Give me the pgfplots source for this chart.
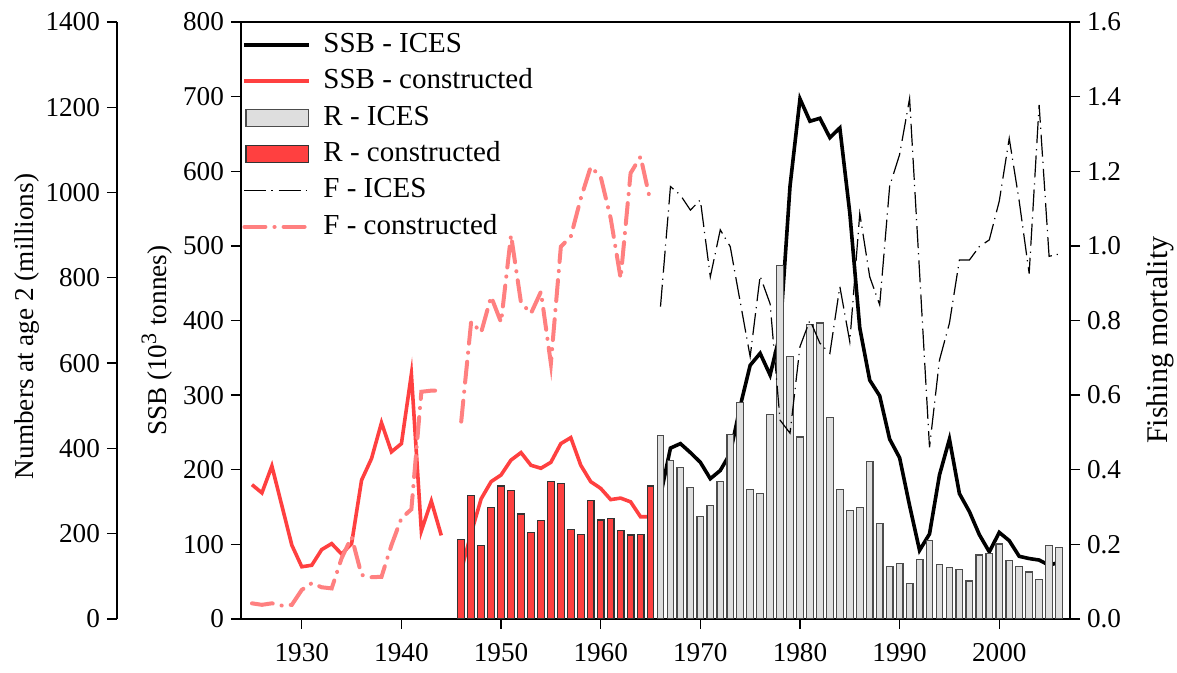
\documentclass[border=0pt]{standalone}
\usepackage{fontspec}
\setmainfont{Liberation Serif}
\usepackage{pgfplots}
\pgfplotsset{compat=1.18}
\usepackage{pgfplotstable}

\definecolor{ssbred}{RGB}{255,64,64}
\definecolor{fpink}{RGB}{255,128,128}
\definecolor{rgrey}{RGB}{222,222,222}

% SSB (10^3 t)
\pgfplotstableread{
year val
1925 180
1926 169
1927 205
1928 152
1929 99
1930 70
1931 72
1932 93
1933 101
1934 87
1935 101
1936 186
1937 215
1938 263
1939 224
1940 235
1941 328
1942 118
1943 158
1944 112
1945 nan
1946 65
1947 115
1948 161
1949 184
1950 193
1951 213
1952 223
1953 206
1954 202
1955 210
1956 235
1957 243
1958 206
1959 184
1960 175
1961 160
1962 162
1963 157
1964 137
1965 137
}\ssbcons

\pgfplotstableread{
year val
1966 165
1967 229
1968 235
1969 223
1970 210
1971 188
1972 199
1973 222
1974 285
1975 340
1976 356
1977 327
1978 382
1979 580
1980 697
1981 667
1982 671
1983 645
1984 658
1985 544
1986 390
1987 320
1988 299
1989 241
1990 216
1991 152
1992 92
1993 114
1994 193
1995 241
1996 168
1997 144
1998 113
1999 90
2000 116
2001 105
2002 84
2003 81
2004 79
2005 72
2006 76
}\ssbices

% recruits, numbers at age 2 (millions)
\pgfplotstableread{
year val
1946 187
1947 289
1948 173
1949 261
1950 312
1951 302
1952 246
1953 202
1954 231
1955 322
1956 317
1957 209
1958 199
1959 277
1960 232
1961 236
1962 207
1963 197
1964 199
1965 312
}\rcons

\pgfplotstableread{
year val
1966 430
1967 371
1968 355
1969 308
1970 241
1971 266
1972 323
1973 433
1974 507
1975 304
1976 295
1977 480
1978 829
1979 615
1980 427
1981 690
1982 694
1983 473
1984 304
1985 255
1986 261
1987 369
1988 224
1989 124
1990 130
1991 84
1992 140
1993 185
1994 128
1995 121
1996 117
1997 89
1998 150
1999 154
2000 176
2001 138
2002 124
2003 110
2004 92
2005 173
2006 168
}\rices

% fishing mortality
\pgfplotstableread{
year val
1925 0.042
1926 0.038
1927 0.042
1928 0.036
1929 0.038
1930 0.078
1931 0.096
1932 0.085
1933 0.082
1934 0.163
1935 0.22
1936 0.118
1937 0.112
1938 0.113
1939 0.198
1940 0.27
1941 0.294
1942 0.609
1943 0.612
1944 0.612
1945 nan
1946 0.529
1947 0.797
1948 0.768
1949 0.864
1950 0.795
1951 1.029
1952 0.848
1953 0.819
1954 0.877
1955 0.685
1956 0.998
1957 1.025
1958 1.127
1959 1.212
1960 1.185
1961 1.074
1962 0.913
1963 1.195
1964 1.239
1965 1.118
}\fcons

\pgfplotstableread{
year val
1966 0.837
1967 1.159
1968 1.136
1969 1.096
1970 1.123
1971 0.917
1972 1.043
1973 0.998
1974 0.85
1975 0.703
1976 0.919
1977 0.845
1978 0.533
1979 0.498
1980 0.73
1981 0.801
1982 0.739
1983 0.712
1984 0.891
1985 0.743
1986 1.087
1987 0.917
1988 0.842
1989 1.16
1990 1.245
1991 1.395
1992 0.93
1993 0.46
1994 0.694
1995 0.793
1996 0.962
1997 0.962
1998 0.998
1999 1.016
2000 1.12
2001 1.288
2002 1.12
2003 0.926
2004 1.378
2005 0.972
2006 0.978
}\fices

\pgfplotsset{
  base/.style={
    scale only axis, width=414.5pt, height=298.5pt,
    xmin=1923.9, xmax=2007.1,
    at={(0pt,0pt)}, anchor=south west,
    tick align=outside, major tick length=5pt,
    every tick/.style={black, line width=0.65pt},
    axis line style={line width=0.85pt},
    ticklabel style={font=\fontsize{13.6}{15}\selectfont},
    label style={font=\fontsize{13.6}{15}\selectfont},
    /pgf/number format/assume math mode=true,
    /pgf/number format/1000 sep={},
    unbounded coords=jump,
  },
  ssbices/.style={black, line width=1.8pt},
  ssbcons/.style={ssbred, line width=1.8pt},
  rices/.style={fill=rgrey, draw=black!70, line width=0.6pt},
  rcons/.style={fill=ssbred, draw=black!80, line width=0.6pt},
  fices/.style={black, line width=0.6pt, dash pattern=on 11pt off 2.5pt on 0.6pt off 3pt},
  fcons/.style={fpink, line width=2pt, line cap=round, dash pattern=on 10.5pt off 4.5pt on 0.1pt off 4.5pt},
  linelegend/.style={legend image code/.code={\draw[##1] (0pt,0pt) -- (32.5pt,0pt);}},
  arealegend/.style={legend image code/.code={\draw[##1] (0.8pt,-4.25pt) rectangle (32pt,4.25pt);}},
}

\begin{document}
\begin{tikzpicture}
% SSB, left inner axis
\begin{axis}[base,
  ymin=0, ymax=800, ytick={0,100,...,800},
  xtick={1930,1940,...,2000}, xtick pos=bottom, ytick pos=left,
  xticklabel style={yshift=-3.5pt},
  ylabel={SSB (10\textsuperscript{\fontsize{11}{12}\selectfont 3} tonnes)},
  y label style={at={(axis description cs:-0.1013,0.466)}, anchor=center},
]
\addplot[ssbcons] table[x=year,y=val] {\ssbcons};
\addplot[ssbices] table[x=year,y=val] {\ssbices};
\end{axis}

% recruitment bars
\begin{axis}[base, hide axis, ymin=0, ymax=1400]
\addplot[ybar, bar width=0.67, bar shift=0pt, rcons] table[x=year,y=val] {\rcons};
\addplot[ybar, bar width=0.67, bar shift=0pt, rices] table[x=year,y=val] {\rices};
\end{axis}

% outer recruitment scale
\begin{axis}[base, at={(-62pt,0pt)}, hide x axis, axis y line*=left,
  axis line style={line width=0.6pt},
  ymin=0, ymax=1400, ytick={0,200,...,1400},
  ylabel={Numbers at age 2 (millions)},
  y label style={at={(axis description cs:-0.1086,0.49)}, anchor=center},
]
\end{axis}

% fishing mortality, right axis
\begin{axis}[base, hide x axis, axis y line*=right,
  ymin=0, ymax=1.6, ytick={0,0.2,...,1.6},
  yticklabel style={/pgf/number format/.cd, fixed, fixed zerofill, precision=1},
  ylabel={Fishing mortality},
  y label style={at={(axis description cs:1.1086,0.467)}, anchor=center,
    font=\fontsize{15}{17}\selectfont},
  legend style={at={(axis description cs:-0.006,0.995)}, anchor=north west,
    draw=none, fill=none, font=\fontsize{14.5}{16}\selectfont,
    row sep=2.7pt, nodes={inner sep=1pt, text height=10.5pt, text depth=3pt},
    /tikz/every odd column/.append style={column sep=5pt}},
  legend cell align=left,
]
\addlegendimage{ssbices, linelegend}
\addlegendentry{SSB - ICES}
\addlegendimage{ssbcons, linelegend}
\addlegendentry{SSB - constructed}
\addlegendimage{rices, arealegend}
\addlegendentry{R - ICES}
\addlegendimage{rcons, arealegend}
\addlegendentry{R - constructed}
\addplot[fices, linelegend] table[x=year,y=val] {\fices};
\addlegendentry{F - ICES}
\addplot[fcons, linelegend] table[x=year,y=val] {\fcons};
\addlegendentry{F - constructed}
\end{axis}

\pgfresetboundingbox
\path[use as bounding box] (-120.5pt,-27pt) rectangle (468pt,309.5pt);
\end{tikzpicture}
\end{document}
